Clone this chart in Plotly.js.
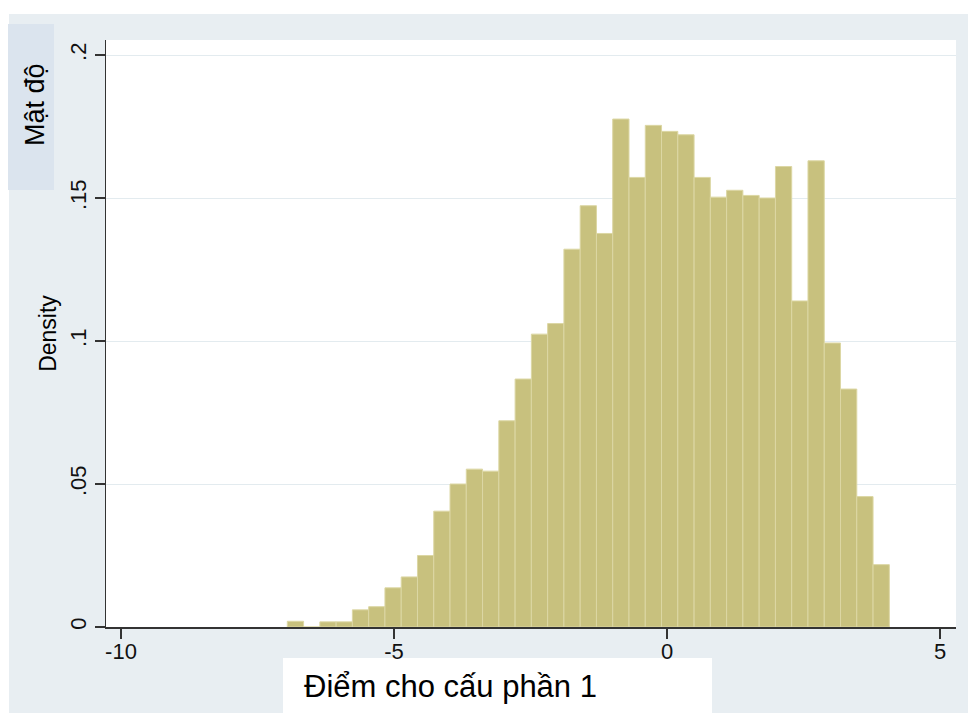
<!DOCTYPE html>
<html>
<head>
<meta charset="utf-8">
<script src="https://cdn.plot.ly/plotly-3.0.1.min.js"></script>
<style>html,body{margin:0;padding:0;background:#fff;}#chart{width:968px;height:713px;}</style>
</head>
<body>
<div id="chart"></div>
<script>
// ---- Data ----
const binStart = -6.954;      // left edge of first bin
const binWidth = 0.298;       // bin width
const density = [
  0.0020, 0.0000, 0.0018, 0.0018, 0.0060, 0.0071, 0.0137, 0.0175, 0.0250, 0.0405,
  0.0500, 0.0552, 0.0545, 0.0721, 0.0867, 0.1024, 0.1061, 0.1321, 0.1473, 0.1376,
  0.1776, 0.1572, 0.1754, 0.1733, 0.1721, 0.1572, 0.1503, 0.1527, 0.1509, 0.1500,
  0.1610, 0.1140, 0.1630, 0.0993, 0.0832, 0.0456, 0.0218
];
const xTickVals = [-10, -5, 0, 5];
const xTickText = ['-10', '-5', '0', '5'];
const yTickVals = [0, 0.05, 0.1, 0.15, 0.2];
const yTickText = ['0', '.05', '.1', '.15', '.2'];

const binCenters = density.map((_, i) => binStart + binWidth * (i + 0.5));

// ---- Layout geometry (pixels) ----
const W = 968, H = 713;
const M = {l: 106, r: 12, t: 40, b: 86};
const PW = W - M.l - M.r, PH = H - M.t - M.b;
const px = x => (x - M.l) / PW;
const py = y => (H - M.b - y) / PH;

const font = 'Liberation Sans, Arial, sans-serif';

const trace = {
  type: 'bar',
  x: binCenters,
  y: density,
  width: binWidth,
  marker: {color: '#c8c17e', line: {color: '#dcd7a4', width: 1}},
  hoverinfo: 'x+y'
};

const layout = {
  width: W, height: H,
  margin: M,
  paper_bgcolor: '#e8eef2',
  plot_bgcolor: '#ffffff',
  showlegend: false,
  bargap: 0,
  font: {family: font, color: '#000'},
  xaxis: {
    range: [-10 - 15 / 54.6, 5 + 16 / 54.6],
    tickvals: xTickVals, ticktext: xTickText,
    ticks: 'outside', ticklen: 10, tickwidth: 1.3, tickcolor: '#333',
    ticklabelstandoff: -6,
    showline: true, linecolor: '#333', linewidth: 1.5,
    showgrid: false, zeroline: false,
    tickfont: {family: font, size: 22, color: '#111'}
  },
  yaxis: {
    range: [0, (H - M.b - M.t) / 2860],
    tickvals: yTickVals, ticktext: yTickText,
    tickangle: -90,
    ticks: 'outside', ticklen: 10, tickwidth: 1.3, tickcolor: '#333',
    showline: true, linecolor: '#333', linewidth: 1.5,
    showgrid: true, gridcolor: '#e3ebef', gridwidth: 1,
    zeroline: false,
    tickfont: {family: font, size: 22, color: '#111'},
    title: {text: 'Density', font: {family: font, size: 23, color: '#000'}, standoff: 2}
  },
  shapes: [
    {type: 'rect', xref: 'paper', yref: 'paper', layer: 'below',
     x0: px(0), x1: px(W), y0: py(14), y1: py(0), fillcolor: '#ffffff', line: {width: 0}},
    {type: 'rect', xref: 'paper', yref: 'paper', layer: 'below',
     x0: px(0), x1: px(9), y0: py(H), y1: py(0), fillcolor: '#ffffff', line: {width: 0}},
    {type: 'rect', xref: 'paper', yref: 'paper', layer: 'below',
     x0: px(8), x1: px(54), y0: py(190), y1: py(24), fillcolor: '#dbe4ee', line: {width: 0}},
    {type: 'rect', xref: 'paper', yref: 'paper', layer: 'below',
     x0: px(283), x1: px(712), y0: py(H), y1: py(658), fillcolor: '#ffffff', line: {width: 0}}
  ],
  annotations: [
    {text: 'Mật độ', xref: 'paper', yref: 'paper', x: px(35), y: py(105),
     xanchor: 'center', yanchor: 'middle', textangle: -90, showarrow: false,
     font: {family: font, size: 27, color: '#000'}},
    {text: 'Điểm cho cấu phần 1', xref: 'paper', yref: 'paper', x: px(302), y: py(686),
     xanchor: 'left', yanchor: 'middle', showarrow: false,
     font: {family: font, size: 31, color: '#000'}}
  ]
};

Plotly.newPlot('chart', [trace], layout, {displayModeBar: false, staticPlot: true});
</script>
</body>
</html>
